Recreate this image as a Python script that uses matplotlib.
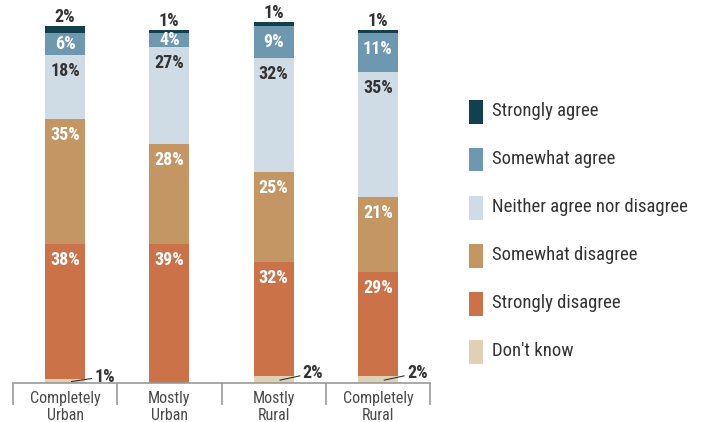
import matplotlib
matplotlib.use("Agg")
import matplotlib.pyplot as plt
from matplotlib.patches import Rectangle
from matplotlib import font_manager

# pick a condensed face if the system has one
names = {f.name for f in font_manager.fontManager.ttflist}
narrow = "DejaVu Sans"
for cand in ["Liberation Sans Narrow", "Roboto Condensed", "Open Sans Condensed",
             "Noto Sans Condensed", "DejaVu Sans Condensed"]:
    if cand in names:
        narrow = cand
        break
plt.rcParams["font.family"] = [narrow, "DejaVu Sans"]
plt.rcParams["font.stretch"] = "condensed"

categories = ["Completely\nUrban", "Mostly\nUrban", "Mostly\nRural", "Completely\nRural"]
responses = ["Don't know", "Strongly disagree", "Somewhat disagree",
             "Neither agree nor disagree", "Somewhat agree", "Strongly agree"]
dont_know = [1, 0, 2, 2]
strongly_disagree = [38, 39, 32, 29]
somewhat_disagree = [35, 28, 25, 21]
neither = [18, 27, 32, 35]
somewhat_agree = [6, 4, 9, 11]
strongly_agree = [2, 1, 1, 1]

series = [dont_know, strongly_disagree, somewhat_disagree, neither, somewhat_agree, strongly_agree]
colors = ["#e0d0b5", "#cc7249", "#c39663", "#d0dce5", "#6e97b0", "#12404c"]
text_colors = [None, "white", "white", "#333333", "white", None]
label_size = 13

W, H = 703, 422
fig = plt.figure(figsize=(W / 100, H / 100), dpi=100)
px_per_pct = 3.57
ymax = 103
ax = fig.add_axes([13 / W, (H - 383) / H, 417 / W, px_per_pct * ymax / H])

x = list(range(len(categories)))
bottoms = [0] * len(categories)
for vals, col, tcol in zip(series, colors, text_colors):
    ax.bar(x, vals, width=0.385, bottom=bottoms, color=col, linewidth=0)
    for i, v in enumerate(vals):
        top = bottoms[i] + v
        if tcol is not None and v > 0:
            if v < 8:
                ax.text(i, bottoms[i] + v / 2, f"{v}%", ha="center", va="center",
                        color=tcol, fontsize=label_size, fontweight="bold")
            else:
                ax.annotate(f"{v}%", (i, top), xytext=(0, -5), textcoords="offset points",
                            ha="center", va="top", color=tcol, fontsize=label_size,
                            fontweight="bold")
        bottoms[i] = top

# strongly agree sits above the bar
for i, v in enumerate(strongly_agree):
    ax.annotate(f"{v}%", (i, bottoms[i]), xytext=(0, 0), textcoords="offset points",
                ha="center", va="bottom", color="#333333", fontsize=label_size,
                fontweight="bold")

# don't know values with a leader line
for i, v in enumerate(dont_know):
    if v == 0:
        continue
    ax.annotate(f"{v}%", (i + 0.06, v * 0.4), xytext=(i + 0.28, v + 0.8),
                ha="left", va="center", color="#333333", fontsize=label_size,
                fontweight="bold",
                arrowprops=dict(arrowstyle="-", color="#333333", lw=0.8,
                                shrinkA=0, shrinkB=0))

ax.set_xlim(-0.5, 3.5)
ax.set_ylim(0, ymax)
for s in ["top", "right", "left"]:
    ax.spines[s].set_visible(False)
ax.spines["bottom"].set_color("#9a9a9a")
ax.spines["bottom"].set_linewidth(1.2)
ax.set_yticks([])
ax.set_xticks(x)
ax.set_xticklabels(categories, fontsize=11.5, color="#4a4a4a", linespacing=1.12)
ax.tick_params(axis="x", which="major", length=0, pad=6)
ax.set_xticks([-0.5, 0.5, 1.5, 2.5, 3.5], minor=True)
ax.tick_params(axis="x", which="minor", length=16, width=1.2, color="#9a9a9a")

# legend drawn as swatches plus labels, top row first
for k, (r, c) in enumerate(zip(responses[::-1], colors[::-1])):
    top = 100 + 48 * k
    fig.patches.append(Rectangle((469 / W, 1 - (top + 23.5) / H), 14 / W, 23.5 / H,
                                 transform=fig.transFigure, facecolor=c, edgecolor="none"))
    fig.text(492 / W, 1 - (top + 11.5) / H, r, ha="left", va="center",
             fontsize=13.5, color="#333333")

fig.savefig("out.png", dpi=100)
